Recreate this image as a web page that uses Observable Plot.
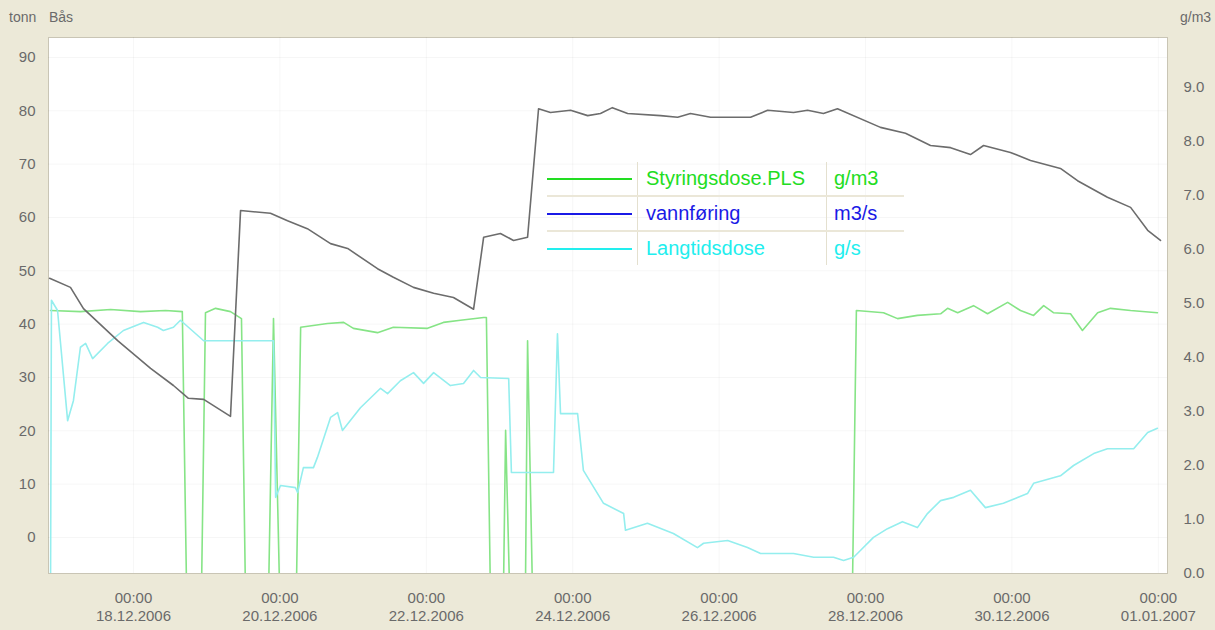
<!DOCTYPE html>
<html>
<head>
<meta charset="utf-8">
<script src="https://cdn.jsdelivr.net/npm/d3@7"></script>
<script src="https://cdn.jsdelivr.net/npm/@observablehq/plot@0.6"></script>
<style>
  html, body { margin: 0; padding: 0; background: #ECE9D8; }
  #wrap { position: relative; width: 1215px; height: 630px; font-family: "Liberation Sans", Arial, sans-serif; }
  .toplab { position: absolute; top: 9px; font-size: 14px; color: #6a6a6a; }
  #legend { position: absolute; left: 547px; top: 162px; border-collapse: collapse; font-family: "Liberation Sans", Arial, sans-serif; font-size: 20px; }
  #legend td { padding: 0; height: 33px; }
  #legend td.sw { width: 90px; border-right: 1px solid #e4e0cf; }
  #legend td.sw div { width: 85px; height: 2px; }
  #legend td.nm { width: 180px; padding-left: 8px; border-right: 1px solid #e4e0cf; }
  #legend td.un { width: 70px; padding-left: 7px; }
  #legend tr + tr td { border-top: 2px solid #ebe7d8; }
</style>
</head>
<body>
<div id="wrap"></div>
<script>
// ---- data ----
const grayTimes = ["2006-12-16 20:30","2006-12-17 03:20","2006-12-17 07:36","2006-12-17 18:48","2006-12-18 05:36","2006-12-18 13:06","2006-12-18 18:00","2006-12-18 23:00","2006-12-19 07:48","2006-12-19 11:06","2006-12-19 20:54","2006-12-20 02:30","2006-12-20 09:00","2006-12-20 16:36","2006-12-20 22:12","2006-12-21 08:00","2006-12-21 13:12","2006-12-21 19:48","2006-12-22 02:24","2006-12-22 08:54","2006-12-22 15:30","2006-12-22 18:48","2006-12-23 00:18","2006-12-23 04:36","2006-12-23 09:12","2006-12-23 12:48","2006-12-23 16:42","2006-12-23 23:18","2006-12-24 04:54","2006-12-24 09:06","2006-12-24 13:00","2006-12-24 18:00","2006-12-25 04:48","2006-12-25 10:24","2006-12-25 14:36","2006-12-25 21:12","2006-12-26 10:18","2006-12-26 15:54","2006-12-27 00:24","2006-12-27 05:00","2006-12-27 10:12","2006-12-27 14:48","2006-12-28 04:54","2006-12-28 13:06","2006-12-28 21:18","2006-12-29 03:54","2006-12-29 10:24","2006-12-29 14:42","2006-12-29 23:30","2006-12-30 06:06","2006-12-30 15:54","2006-12-30 21:30","2006-12-31 07:18","2006-12-31 14:54","2006-12-31 20:30","2007-01-01 00:42"];
const grayTonn = [48.6,46.9,42.9,36.9,31.7,28.5,26.1,25.9,22.7,61.3,60.8,59.4,57.9,55.1,54.2,50.4,48.8,46.9,45.8,45.0,42.8,56.3,57.0,55.7,56.3,80.4,79.7,80.1,79.1,79.5,80.6,79.5,79.1,78.8,79.5,78.8,78.8,80.1,79.7,80.1,79.5,80.4,76.9,75.8,73.5,73.1,71.8,73.5,72.2,70.7,69.2,66.9,63.8,61.9,57.6,55.7];

const greenTimes = ["2006-12-16 20:48","2006-12-17 06:36","2006-12-17 16:30","2006-12-18 02:18","2006-12-18 10:30","2006-12-18 16:00","2006-12-18 17:24","2006-12-18 22:18","2006-12-18 23:36","2006-12-19 02:54","2006-12-19 07:48","2006-12-19 11:24","2006-12-19 12:42","2006-12-19 20:18","2006-12-19 21:54","2006-12-19 23:54","2006-12-20 05:24","2006-12-20 06:48","2006-12-20 15:36","2006-12-20 20:54","2006-12-21 00:06","2006-12-21 08:00","2006-12-21 13:12","2006-12-22 00:24","2006-12-22 05:36","2006-12-22 11:12","2006-12-22 18:48","2006-12-22 19:42","2006-12-22 21:00","2006-12-23 01:18","2006-12-23 02:00","2006-12-23 03:18","2006-12-23 08:30","2006-12-23 09:12","2006-12-23 10:48","2006-12-27 19:42","2006-12-27 21:00","2006-12-28 05:54","2006-12-28 10:30","2006-12-28 17:00","2006-12-29 00:36","2006-12-29 02:54","2006-12-29 06:12","2006-12-29 11:24","2006-12-29 16:00","2006-12-29 22:36","2006-12-30 02:48","2006-12-30 07:06","2006-12-30 10:24","2006-12-30 13:36","2006-12-30 19:12","2006-12-30 23:06","2006-12-31 04:06","2006-12-31 08:18","2006-12-31 14:54","2006-12-31 23:42"];
const greenGm3 = [4.87,4.85,4.89,4.85,4.87,4.85,-0.3,-0.3,4.83,4.91,4.85,4.72,-0.3,-0.3,4.72,-0.3,-0.3,4.56,4.63,4.65,4.54,4.46,4.56,4.54,4.65,4.69,4.74,4.74,-0.3,-0.3,2.65,-0.3,-0.3,4.31,-0.3,-0.3,4.87,4.83,4.72,4.78,4.81,4.91,4.83,4.96,4.81,5.02,4.87,4.78,4.96,4.83,4.81,4.50,4.83,4.91,4.87,4.83];

const cyanTimes = ["2006-12-16 20:48","2006-12-16 21:06","2006-12-16 23:06","2006-12-17 02:24","2006-12-17 04:18","2006-12-17 06:36","2006-12-17 08:18","2006-12-17 10:36","2006-12-17 15:30","2006-12-17 20:42","2006-12-18 03:18","2006-12-18 07:54","2006-12-18 09:48","2006-12-18 13:06","2006-12-18 15:24","2006-12-18 18:00","2006-12-18 23:00","2006-12-19 21:54","2006-12-19 22:36","2006-12-20 00:12","2006-12-20 05:06","2006-12-20 05:48","2006-12-20 07:42","2006-12-20 11:00","2006-12-20 12:18","2006-12-20 16:36","2006-12-20 18:54","2006-12-20 20:30","2006-12-21 02:24","2006-12-21 09:00","2006-12-21 11:18","2006-12-21 15:30","2006-12-21 19:48","2006-12-21 23:06","2006-12-22 02:24","2006-12-22 07:54","2006-12-22 12:12","2006-12-22 15:30","2006-12-22 17:48","2006-12-23 03:00","2006-12-23 03:54","2006-12-23 17:42","2006-12-23 19:00","2006-12-23 20:00","2006-12-24 01:36","2006-12-24 03:30","2006-12-24 10:06","2006-12-24 16:42","2006-12-24 17:18","2006-12-25 00:30","2006-12-25 09:00","2006-12-25 16:54","2006-12-25 18:54","2006-12-26 02:48","2006-12-26 09:18","2006-12-26 13:36","2006-12-27 00:24","2006-12-27 07:00","2006-12-27 13:30","2006-12-27 16:48","2006-12-27 20:06","2006-12-27 22:24","2006-12-28 02:36","2006-12-28 07:12","2006-12-28 12:06","2006-12-28 17:00","2006-12-28 20:18","2006-12-29 00:36","2006-12-29 04:54","2006-12-29 10:24","2006-12-29 15:18","2006-12-29 21:12","2006-12-30 05:06","2006-12-30 07:06","2006-12-30 15:54","2006-12-30 20:12","2006-12-31 02:48","2006-12-31 07:18","2006-12-31 15:54","2006-12-31 20:30","2006-12-31 23:42"];
const cyanGs = [-0.3,5.06,4.87,2.83,3.20,4.19,4.26,3.98,4.26,4.50,4.65,4.56,4.50,4.56,4.69,4.56,4.31,4.31,1.41,1.63,1.59,1.50,1.96,1.96,2.15,2.89,2.98,2.65,3.07,3.43,3.33,3.57,3.72,3.52,3.72,3.48,3.52,3.76,3.63,3.61,1.87,1.87,4.44,2.96,2.96,1.91,1.30,1.11,0.80,0.93,0.74,0.48,0.56,0.61,0.48,0.37,0.37,0.30,0.30,0.24,0.30,0.43,0.67,0.83,0.96,0.85,1.11,1.35,1.41,1.54,1.22,1.30,1.48,1.67,1.81,2.00,2.22,2.31,2.31,2.61,2.69];

const leftTicks = [0,10,20,30,40,50,60,70,80,90];
const rightTicks = [0,1,2,3,4,5,6,7,8,9];
const xTickDates = ["2006-12-18 00:00","2006-12-20 00:00","2006-12-22 00:00","2006-12-24 00:00","2006-12-26 00:00","2006-12-28 00:00","2006-12-30 00:00","2007-01-01 00:00"];
const xDomain = ["2006-12-16 20:08","2007-01-01 03:00"];
const yDomainTonn = [-6.75, 93.75];

const legendItems = [
  {name: "Styringsdose.PLS", unit: "g/m3", color: "#22dd22"},
  {name: "vannføring", unit: "m3/s", color: "#1a1ae6"},
  {name: "Langtidsdose", unit: "g/s", color: "#22eeee"}
];

// ---- build ----
const parse = d3.utcParse("%Y-%m-%d %H:%M");
// right axis (g/m3) expressed in left-axis (tonn) units
const toLeft = r => r * 10.125 - 6.75;
const fromLeft = l => (l + 6.75) / 10.125;

const gray = grayTimes.map((t, i) => ({t: parse(t), v: grayTonn[i]}));
const green = greenTimes.map((t, i) => ({t: parse(t), v: toLeft(greenGm3[i])}));
const cyan = cyanTimes.map((t, i) => ({t: parse(t), v: toLeft(cyanGs[i])}));
const xTicks = xTickDates.map(parse);

const chart = Plot.plot({
  width: 1215,
  height: 630,
  marginLeft: 48,
  marginRight: 48,
  marginTop: 37,
  marginBottom: 57,
  style: {background: "#ECE9D8", fontFamily: "Liberation Sans, Arial, sans-serif", fontSize: "15px", color: "#6a6a6a"},
  x: {type: "utc", domain: xDomain.map(parse)},
  y: {domain: yDomainTonn},
  marks: [
    Plot.frame({fill: "white", stroke: "#c9c5b5"}),
    Plot.gridY(leftTicks, {stroke: "#000", strokeOpacity: 0.035}),
    Plot.gridX(xTicks, {stroke: "#000", strokeOpacity: 0.035}),
    Plot.lineY(green, {x: "t", y: "v", stroke: "#86e486", strokeWidth: 1.6, clip: true}),
    Plot.lineY(cyan, {x: "t", y: "v", stroke: "#94eeee", strokeWidth: 1.6, clip: true}),
    Plot.lineY(gray, {x: "t", y: "v", stroke: "#6c6c6c", strokeWidth: 1.6, clip: true}),
    Plot.axisY(leftTicks, {anchor: "left", tickSize: 0, tickPadding: 13, label: null}),
    Plot.axisY(rightTicks.map(toLeft), {anchor: "right", tickSize: 0, tickPadding: 16, label: null,
      tickFormat: d => fromLeft(d).toFixed(1)}),
    Plot.axisX(xTicks, {tickSize: 0, tickPadding: 17, label: null, lineHeight: 1.2,
      tickFormat: d3.utcFormat("%H:%M\n%d.%m.%Y")})
  ]
});

const wrap = document.getElementById("wrap");
wrap.appendChild(chart);

function addLabel(text, left) {
  const s = document.createElement("div");
  s.className = "toplab";
  s.style.left = left + "px";
  s.textContent = text;
  wrap.appendChild(s);
}
addLabel("tonn", 9);
addLabel("Bås", 49);
addLabel("g/m3", 1180);

const table = document.createElement("table");
table.id = "legend";
legendItems.forEach(item => {
  const tr = document.createElement("tr");
  const sw = document.createElement("td"); sw.className = "sw";
  const line = document.createElement("div"); line.style.background = item.color; sw.appendChild(line);
  const nm = document.createElement("td"); nm.className = "nm"; nm.textContent = item.name; nm.style.color = item.color;
  const un = document.createElement("td"); un.className = "un"; un.textContent = item.unit; un.style.color = item.color;
  tr.append(sw, nm, un);
  table.appendChild(tr);
});
wrap.appendChild(table);
</script>
</body>
</html>
